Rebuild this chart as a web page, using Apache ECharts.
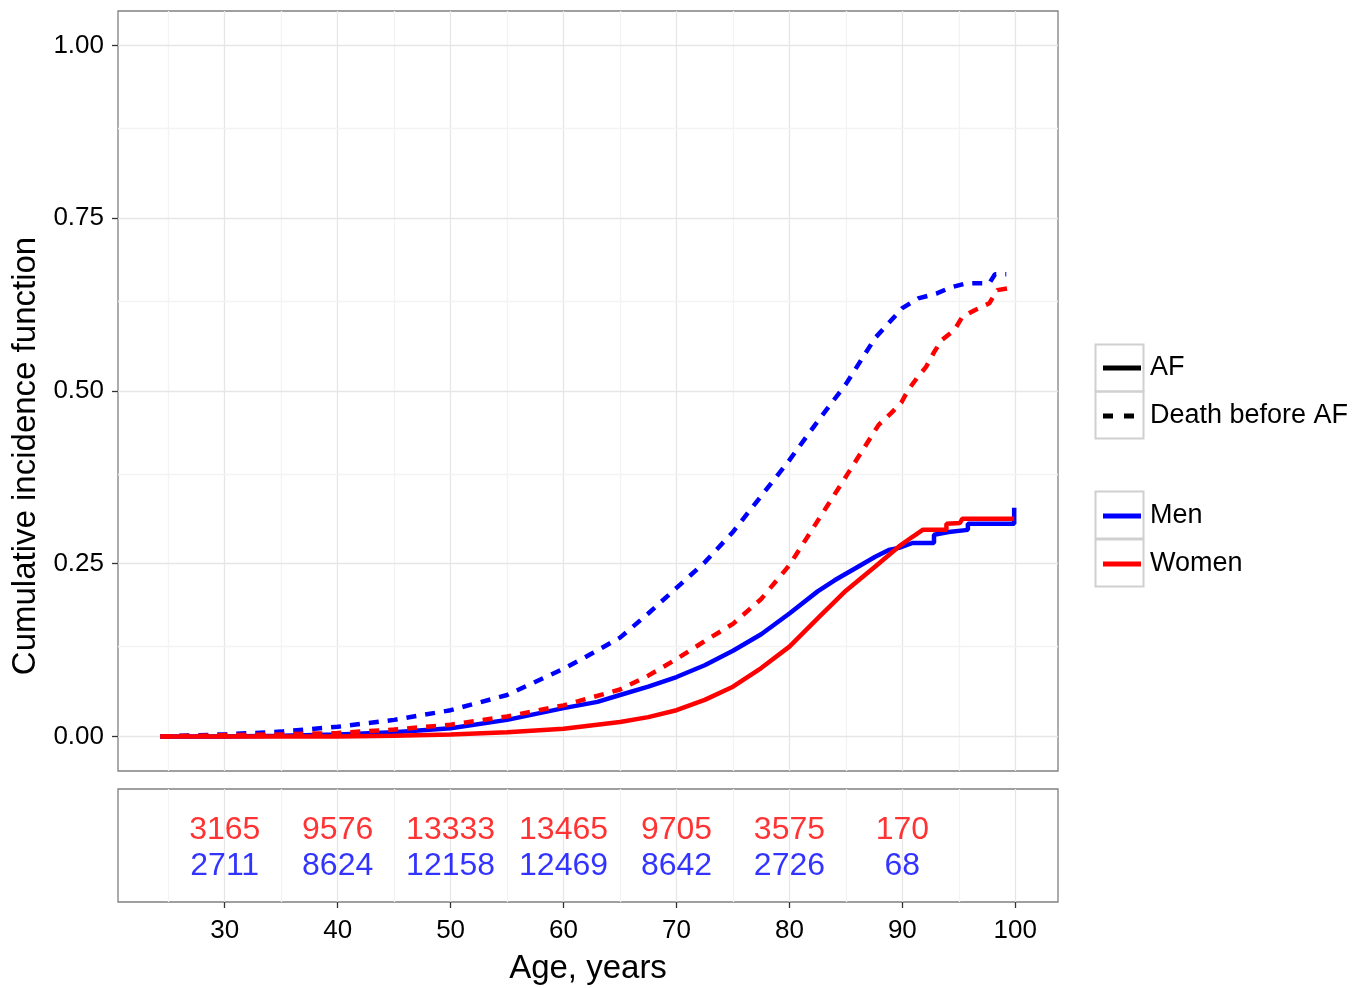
<!DOCTYPE html>
<html lang="en">
<head>
  <meta charset="UTF-8">
  <title>Cumulative incidence</title>
  <script src="https://cdn.jsdelivr.net/npm/echarts@6/dist/echarts.min.js"></script>
  <style>
    html, body { margin: 0; padding: 0; background: #fff; }
  </style>
</head>
<body>
  <div id="chart" style="width: 1359px; height: 988px;"></div>
  <script>
    // tick labels
    var xTicks = [30, 40, 50, 60, 70, 80, 90, 100];
    var yTicks = [0, 0.25, 0.5, 0.75, 1];

    // numbers at risk
    var riskAges = [30, 40, 50, 60, 70, 80, 90];
    var womenAtRisk = [3165, 9576, 13333, 13465, 9705, 3575, 170];
    var menAtRisk = [2711, 8624, 12158, 12469, 8642, 2726, 68];

    // cumulative incidence, [age, value]
    var menAF = [
      [24.3, 0], [30, 0], [35, 0.001], [40, 0.003], [45, 0.006], [50, 0.012], [55, 0.024],
      [60, 0.041], [63, 0.05], [65, 0.06], [67.5, 0.072], [70, 0.086], [72.5, 0.103], [75, 0.124],
      [77.5, 0.148], [80, 0.178], [82.5, 0.21], [84, 0.226], [86, 0.245], [87.6, 0.26],
      [88.8, 0.27], [89.7, 0.273], [90.9, 0.28], [92.8, 0.28], [92.8, 0.292], [94.1, 0.296],
      [95.8, 0.299], [95.8, 0.308], [99.9, 0.308], [99.9, 0.331]
    ];
    var womenAF = [
      [24.3, 0], [35, 0], [40, 0], [45, 0.001], [50, 0.003], [55, 0.006], [60, 0.011],
      [65, 0.021], [67.5, 0.028], [70, 0.038], [72.5, 0.053], [75, 0.072], [77.5, 0.099],
      [80, 0.13], [82.5, 0.171], [85, 0.211], [87.6, 0.246], [89.7, 0.275], [90.9, 0.289],
      [91.8, 0.299], [93.9, 0.299], [93.9, 0.308], [95.1, 0.309], [95.3, 0.315], [99.9, 0.315]
    ];
    var menDeath = [
      [24.3, 0], [30, 0.003], [35, 0.007], [40, 0.014], [45, 0.024], [50, 0.038], [55, 0.06],
      [60, 0.098], [62.5, 0.12], [65, 0.143], [67.5, 0.178], [70, 0.215], [72.5, 0.252],
      [75, 0.296], [77.5, 0.348], [80, 0.4], [82.5, 0.456], [85, 0.51], [87.6, 0.577],
      [90, 0.62], [91.4, 0.634], [93, 0.641], [94.3, 0.65], [95.7, 0.656], [97.7, 0.656],
      [98.2, 0.669], [99.2, 0.669]
    ];
    var womenDeath = [
      [24.3, 0], [30, 0.002], [35, 0.003], [40, 0.005], [45, 0.01], [50, 0.017], [55, 0.029],
      [60, 0.045], [65, 0.068], [67.5, 0.088], [70, 0.112], [72.5, 0.138], [75, 0.163],
      [77.5, 0.199], [80, 0.248], [82.5, 0.312], [85, 0.376], [87.9, 0.451], [89, 0.468],
      [89.9, 0.483], [90.5, 0.501], [91.3, 0.519], [92.1, 0.535], [92.8, 0.556], [93.5, 0.574],
      [94.6, 0.588], [95.3, 0.607], [96.4, 0.617], [97.7, 0.627], [98.4, 0.646], [99.8, 0.65]
    ];

    var FONT = "'Liberation Sans', Arial, sans-serif";
    var BLUE = '#0000ff', RED = '#ff0000';
    var MAJOR = '#e6e6e6', MINOR = '#f3f3f3';
    // legend keys: a solid bar and two dashes, 38 x 5
    var SOLID_KEY = 'path://M0,0h38v5h-38z';
    var DASH_KEY = 'path://M0,0h10v5h-10z M21,0h10v5h-10z M38,0h0.01v5h-0.01z';

    // grid lines (major on ticks, minor halfway)
    function vLines() {
      var out = [];
      xTicks.forEach(function (t) {
        out.push({ xAxis: t, lineStyle: { color: MAJOR } });
        out.push({ xAxis: t - 5, lineStyle: { color: MINOR } });
      });
      return out;
    }
    function hLines() {
      var out = [];
      yTicks.forEach(function (t, i) {
        out.push({ yAxis: t, lineStyle: { color: MAJOR } });
        if (i > 0) out.push({ yAxis: t - 0.125, lineStyle: { color: MINOR } });
      });
      return out;
    }
    function gridSeries(idx, data) {
      return {
        type: 'line', xAxisIndex: idx, yAxisIndex: idx, data: [], z: 0, silent: true,
        markLine: {
          silent: true, symbol: ['none', 'none'], animation: false, z: 0,
          label: { show: false }, emphasis: { disabled: true },
          lineStyle: { type: 'solid', width: 1.3 },
          data: data
        }
      };
    }
    function curve(name, data, color, dashed) {
      return {
        name: name, type: 'line', data: data, xAxisIndex: 0, yAxisIndex: 0,
        symbol: 'none', smooth: false, z: 3, animation: false,
        lineStyle: { color: color, width: 4.5, type: dashed ? [10, 9] : 'solid', cap: 'butt' },
        itemStyle: { color: color },
        emphasis: { disabled: true }
      };
    }
    function riskRow(values, row, color) {
      return {
        type: 'scatter', xAxisIndex: 1, yAxisIndex: 1, symbolSize: 1, animation: false, z: 10,
        itemStyle: { color: 'rgba(0,0,0,0)' },
        data: riskAges.map(function (a, i) { return [a, row, values[i]]; }),
        label: {
          show: true, position: 'inside', color: color, fontSize: 32, fontFamily: FONT,
          textBorderWidth: 0,
          formatter: function (p) { return p.value[2]; }
        },
        emphasis: { disabled: true }
      };
    }
    function legendSeries(name, color) {
      return {
        name: name, type: 'line', data: [], symbol: 'none', xAxisIndex: 0, yAxisIndex: 0,
        lineStyle: { color: color, width: 4.5 },
        itemStyle: { color: color }
      };
    }
    function legend(items, top) {
      return {
        orient: 'vertical', left: 1098, top: top, itemWidth: 38, itemHeight: 5, itemGap: 20,
        data: items, selectedMode: false,
        textStyle: { fontSize: 27, lineHeight: 28, color: '#000', fontFamily: FONT, padding: [0, 0, 0, 4] }
      };
    }
    function keyBox(y) {
      return { type: 'rect', left: 1093, top: y, shape: { width: 48, height: 47 },
        style: { fill: 'none', stroke: '#d0d0d0', lineWidth: 2 }, silent: true };
    }

    var option = {
      backgroundColor: '#fff',
      textStyle: { fontFamily: FONT },
      animation: false,
      grid: [
        { left: 118, top: 11, width: 940, height: 760, show: true, borderColor: '#808080', borderWidth: 1.3,
          backgroundColor: '#fff', outerBoundsMode: 'none', containLabel: false },
        { left: 118, top: 789, width: 940, height: 113, show: true, borderColor: '#808080', borderWidth: 1.3,
          backgroundColor: '#fff', outerBoundsMode: 'none', containLabel: false }
      ],
      xAxis: [
        { type: 'value', gridIndex: 0, min: 20.55, max: 103.78,
          axisLine: { show: false }, axisTick: { show: false }, axisLabel: { show: false }, splitLine: { show: false } },
        { type: 'value', gridIndex: 1, min: 20.55, max: 103.78,
          name: 'Age, years', nameLocation: 'middle', nameGap: 50,
          nameTextStyle: { fontSize: 33, color: '#000', fontFamily: FONT },
          axisLine: { show: false },
          axisTick: { show: true, length: 6, customValues: xTicks, lineStyle: { color: '#333', width: 1.3 } },
          axisLabel: { customValues: xTicks, fontSize: 26, color: '#000', margin: 16, fontFamily: FONT },
          splitLine: { show: false } }
      ],
      yAxis: [
        { type: 'value', gridIndex: 0, min: -0.05, max: 1.05,
          name: 'Cumulative incidence function', nameLocation: 'middle', nameGap: 73, nameRotate: 90,
          nameTextStyle: { fontSize: 33, color: '#000', fontFamily: FONT, padding: [0, 130, 0, 0] },
          axisLine: { show: false },
          axisTick: { show: true, length: 6, customValues: yTicks, lineStyle: { color: '#333', width: 1.3 } },
          axisLabel: { customValues: yTicks, fontSize: 26, color: '#000', margin: 14, fontFamily: FONT,
            formatter: function (v) { return v.toFixed(2); } },
          splitLine: { show: false } },
        { type: 'value', gridIndex: 1, min: 0, max: 3.14, show: false, splitLine: { show: false } }
      ],
      legend: [
        legend([{ name: 'AF', icon: SOLID_KEY }, { name: 'Death before AF', icon: DASH_KEY }], 349),
        legend([{ name: 'Men', icon: SOLID_KEY }, { name: 'Women', icon: SOLID_KEY }], 497)
      ],
      graphic: [keyBox(342), keyBox(389), keyBox(489), keyBox(537)],
      series: [
        gridSeries(0, vLines().concat(hLines())),
        gridSeries(1, vLines()),
        curve('Men AF', menAF, BLUE, false),
        curve('Men death', menDeath, BLUE, true),
        curve('Women AF', womenAF, RED, false),
        curve('Women death', womenDeath, RED, true),
        riskRow(womenAtRisk, 2, RED),
        riskRow(menAtRisk, 1, BLUE),
        legendSeries('AF', '#000'),
        legendSeries('Death before AF', '#000'),
        legendSeries('Men', BLUE),
        legendSeries('Women', RED)
      ]
    };

    var chart = echarts.init(document.getElementById('chart'), null, { renderer: 'canvas' });
    chart.setOption(option);
  </script>
</body>
</html>
